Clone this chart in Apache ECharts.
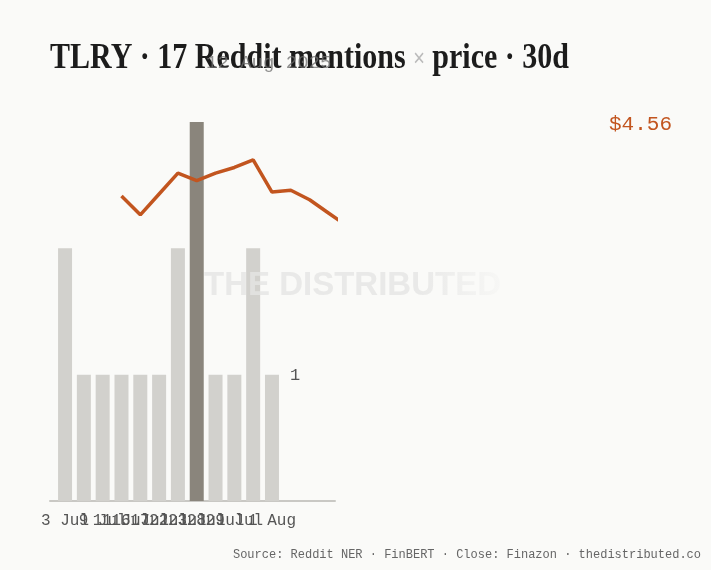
<!DOCTYPE html>
<html>
<head>
<meta charset="utf-8">
<script src="https://cdn.jsdelivr.net/npm/echarts@6/dist/echarts.min.js"></script>
<style>
html,body{margin:0;padding:0;background:#fafaf8;}
#c{width:711px;height:570px;}
</style>
</head>
<body>
<div id="c"></div>
<script>
// ---- data ----
const xLabels = ["3 Jul","5 Jul","9 Jul","11 Jul","16 Jul","17 Jul","22 Jul","23 Jul","28 Jul","29 Jul","30 Jul","1 Aug"];
const mentions = [2,1,1,1,1,1,2,3,1,1,2,1];
const closes = [null,null,null,4.61,4.51,4.62,4.73,4.69,4.73,4.76,4.80,4.63,4.64,4.59,4.52,4.45];
const lastClose = 4.56;
const titleMain = "TLRY · 17 Reddit mentions";
const titleEnd = "price · 30d";
const subtitle = "12 Aug 2025";
const sourceText = "Source: Reddit NER · FinBERT · Close: Finazon · thedistributed.co";
const watermark = "THE DISTRIBUTED";

const maxM = Math.max(...mentions);
const barData = mentions.map((v,i)=>{
  const item = {value:[i,v], itemStyle:{color: v===maxM ? '#8a857c' : '#d2d1cd'}};
  if(i===mentions.length-1){
    item.label = {show:true, position:[25,1], align:'left', verticalAlign:'middle',
      formatter:(p)=>String(p.value[1]), fontFamily:'Liberation Mono', fontSize:17, color:'#555'};
  }
  return item;
});
const lineData = closes.map((v,i)=>[i,v]);

const chart = echarts.init(document.getElementById('c'));
chart.setOption({
  backgroundColor:'#fafaf8',
  animation:false,
  grid:{left:50,right:376,top:122,bottom:69},
  xAxis:{
    type:'value', min:-0.8, max:14.35,
    splitLine:{show:false},
    axisLine:{show:true,onZero:false,lineStyle:{color:'#c9c8c4',width:2}},
    axisTick:{show:false},
    axisLabel:{
      customValues: xLabels.map((_,i)=>i),
      formatter:(v)=>xLabels[Math.round(v)] || '',
      showMinLabel:true, showMaxLabel:true, hideOverlap:false,
      fontFamily:'Liberation Mono', fontSize:16, color:'#555', margin:12
    }
  },
  yAxis:[
    {type:'value',min:0,max:3,show:false},
    {type:'value',min:3,max:5,show:false}
  ],
  series:[
    {type:'bar', data:barData, barWidth:14, yAxisIndex:0},
    {type:'line', data:lineData, yAxisIndex:1, showSymbol:false, connectNulls:false,
      lineStyle:{color:'#c2551f',width:3.5}, itemStyle:{color:'#c2551f'}, clip:true, z:5}
  ],
  graphic:[
    {type:'text', left:204, top:269, z:20, silent:true,
      style:{text:watermark, font:'bold 33px "Liberation Sans"', fill:'rgba(229,229,227,0.8)'}},
    {type:'rect', left:418, top:262, z:21, silent:true,
      shape:{width:100, height:50},
      style:{fill:new echarts.graphic.LinearGradient(0,0,1,0,[
          {offset:0,color:'rgba(250,250,248,0)'},
          {offset:1,color:'rgba(250,250,248,1)'}])}},
    {type:'text', x:50, y:59, scaleY:1.2, z:10,
      style:{text:titleMain+' {x|×} '+titleEnd, font:'bold 30px "Liberation Serif"', fill:'#1c1c1c',
        verticalAlign:'middle',
        rich:{x:{fill:'#bbbbbb', fontWeight:'normal', fontSize:20, fontFamily:'Liberation Sans'}}}},
    {type:'text', x:206, y:63, z:11,
      style:{text:subtitle, font:'19px "Liberation Mono"', fill:'rgba(110,110,110,0.75)', verticalAlign:'middle'}},
    {type:'text', x:609, y:124, z:11,
      style:{text:'$'+lastClose.toFixed(2), font:'21px "Liberation Mono"', fill:'#c2551f', verticalAlign:'middle'}},
    {type:'text', right:10, top:549, z:11,
      style:{text:sourceText, font:'12px "Liberation Mono"', fill:'#666'}}
  ]
});
</script>
</body>
</html>
